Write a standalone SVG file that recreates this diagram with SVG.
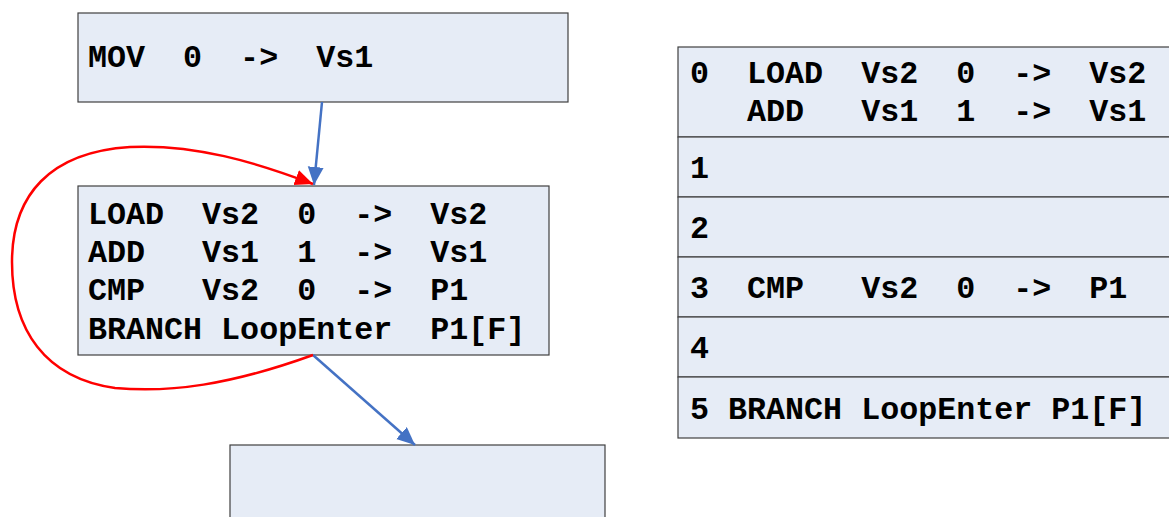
<svg xmlns="http://www.w3.org/2000/svg" width="1169" height="517" viewBox="0 0 1169 517">
<style>
.box{fill:#E6ECF6;stroke:#404040;stroke-width:1.2}
.t{font-family:"Liberation Mono","Courier New",monospace;font-weight:bold;font-size:31.7px;fill:#000;white-space:pre}
.blue{fill:none;stroke:#4472C4;stroke-width:2.5}
.red{fill:none;stroke:#FF0000;stroke-width:2.5}
</style>
<defs>
<marker id="ab" markerUnits="userSpaceOnUse" markerWidth="20" markerHeight="18" refX="18" refY="8" orient="auto"><path d="M0,0 L18,8 L0,16 z" fill="#4472C4"/></marker>
<marker id="ar" markerUnits="userSpaceOnUse" markerWidth="20" markerHeight="18" refX="18" refY="8" orient="auto"><path d="M0,0 L18,8 L0,16 z" fill="#FF0000"/></marker>
</defs>
<rect width="1169" height="517" fill="#fff"/>
<g id="node-mov">
<rect class="box" x="78" y="13" width="490" height="89"/>
<text class="t" x="88" y="67" xml:space="preserve">MOV  0  -&gt;  Vs1</text>
</g>
<g id="node-loop">
<rect class="box" x="78" y="186" width="471" height="169"/>
<text class="t" x="88" y="224" xml:space="preserve">LOAD  Vs2  0  -&gt;  Vs2</text>
<text class="t" x="88" y="262" xml:space="preserve">ADD   Vs1  1  -&gt;  Vs1</text>
<text class="t" x="88" y="300" xml:space="preserve">CMP   Vs2  0  -&gt;  P1</text>
<text class="t" x="88" y="339" xml:space="preserve">BRANCH LoopEnter  P1[F]</text>
</g>
<g id="node-exit">
<rect class="box" x="230" y="445" width="375" height="80"/>
</g>
<g id="node-schedule">
<rect class="box" x="678" y="47" width="500" height="90"/>
<rect class="box" x="678" y="137" width="500" height="60"/>
<rect class="box" x="678" y="197" width="500" height="60"/>
<rect class="box" x="678" y="257" width="500" height="60"/>
<rect class="box" x="678" y="317" width="500" height="60"/>
<rect class="box" x="678" y="377" width="500" height="61"/>
<text class="t" x="690" y="83" xml:space="preserve">0  LOAD  Vs2  0  -&gt;  Vs2</text>
<text class="t" x="690" y="121" xml:space="preserve">   ADD   Vs1  1  -&gt;  Vs1</text>
<text class="t" x="690" y="178" xml:space="preserve">1</text>
<text class="t" x="690" y="238" xml:space="preserve">2</text>
<text class="t" x="690" y="298" xml:space="preserve">3  CMP   Vs2  0  -&gt;  P1</text>
<text class="t" x="690" y="358" xml:space="preserve">4</text>
<text class="t" x="690" y="419" xml:space="preserve">5 BRANCH LoopEnter P1[F]</text>
</g>
<g id="connectors">
<path class="blue" d="M322,102 L314,185" marker-end="url(#ab)"/>
<path class="blue" d="M313,355 L415,445" marker-end="url(#ab)"/>
<path class="red" d="M313,355 C230,385 170,393 115,388 C45,378 12,330 12,262 C12,195 50,152 130,147 C195,144 255,162 313,184" marker-end="url(#ar)"/>
</g>
</svg>
